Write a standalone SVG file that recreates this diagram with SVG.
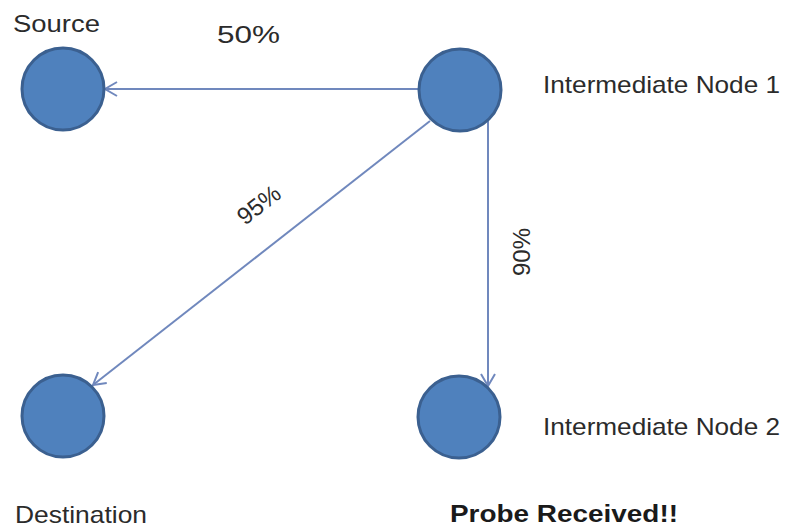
<svg xmlns="http://www.w3.org/2000/svg" width="785" height="529" viewBox="0 0 785 529">
  <style>
    .node { fill: #4f81bd; stroke: #3b6090; stroke-width: 3; }
    .edge { stroke: #7088bd; stroke-width: 2; fill: none; }
    .lbl { font-family: "Liberation Sans", Arial, sans-serif; font-size: 24px; fill: #2b2b2b; }
    .bold { font-weight: bold; fill: #1a1a1a; font-size: 23px; }
  </style>
  <defs>
    <marker id="arrow" markerUnits="userSpaceOnUse" markerWidth="20" markerHeight="20" viewBox="-14 -10 16 20" refX="0" refY="0" orient="auto">
      <path d="M-12,-7 L0,0 L-12,7" fill="none" stroke="#7088bd" stroke-width="2"/>
    </marker>
  </defs>
  <rect width="785" height="529" fill="#ffffff"/>

  <g id="connectors">
    <line class="edge" x1="419" y1="89" x2="105" y2="89" marker-end="url(#arrow)"/>
    <line class="edge" x1="430" y1="121" x2="93" y2="385" marker-end="url(#arrow)"/>
    <line class="edge" x1="488" y1="120" x2="488" y2="386" marker-end="url(#arrow)"/>
    <text class="lbl" x="217" y="43" textLength="63" lengthAdjust="spacingAndGlyphs">50%</text>
    <text class="lbl" transform="translate(259,205) rotate(-38)" x="0" y="8" text-anchor="middle">95%</text>
    <text class="lbl" transform="translate(522,252) rotate(-90)" x="0" y="8" text-anchor="middle">90%</text>
  </g>

  <g id="source">
    <circle class="node" cx="63" cy="89" r="41"/>
    <text class="lbl" x="13" y="32" textLength="87" lengthAdjust="spacingAndGlyphs">Source</text>
  </g>

  <g id="intermediate-node-1">
    <circle class="node" cx="460" cy="90" r="41"/>
    <text class="lbl" x="543" y="93" textLength="237" lengthAdjust="spacingAndGlyphs">Intermediate Node 1</text>
  </g>

  <g id="intermediate-node-2">
    <circle class="node" cx="459" cy="417" r="41"/>
    <text class="lbl" x="543" y="435" textLength="237" lengthAdjust="spacingAndGlyphs">Intermediate Node 2</text>
    <text class="lbl bold" x="450" y="522" textLength="228" lengthAdjust="spacingAndGlyphs">Probe Received!!</text>
  </g>

  <g id="destination">
    <circle class="node" cx="63" cy="416" r="41"/>
    <text class="lbl" x="15" y="523" textLength="132" lengthAdjust="spacingAndGlyphs">Destination</text>
  </g>
</svg>
